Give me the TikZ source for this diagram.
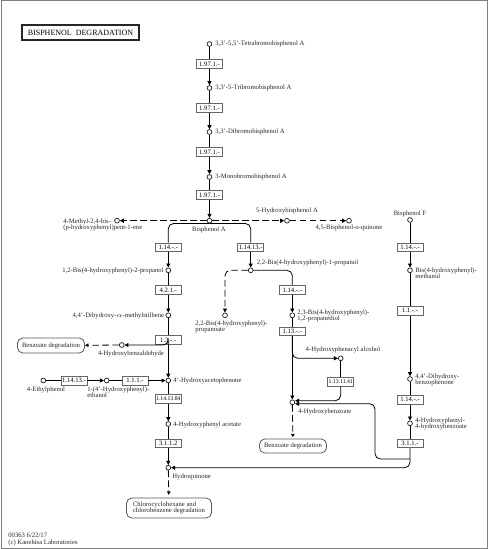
\documentclass[tikz,border=0pt]{standalone}
\usepackage{fontspec}
\setmainfont{Liberation Serif}
\usetikzlibrary{arrows.meta,calc}

\tikzset{every picture/.style={line width=0.6pt}}
\tikzset{
  cpd/.style={circle,draw=black!85,fill=white,inner sep=0pt,minimum size=3.6pt,line width=0.55pt},
  enz/.style={draw=black!60,fill=white,inner sep=0pt,minimum width=19.5pt,minimum height=6.6pt,font=\fontsize{5}{5}\selectfont},
  txt/.style={inner sep=0pt,align=left,text=black!85,font=\fontsize{5}{4.6}\selectfont},
  maplink/.style={draw=black!65,rounded corners=4pt,inner sep=0pt,align=left,text=black!85,font=\fontsize{5}{4.6}\selectfont},
  fwd/.style={-{Triangle[length=3pt,width=3pt]}},
  opentip/.style={-{Triangle[open,length=2.6pt,width=2.6pt]}},
  dsh/.style={dash pattern=on 5pt off 2.5pt},
}

\begin{document}
\begin{tikzpicture}[x=0.75pt,y=0.75pt,yscale=-1,xscale=1]
\useasboundingbox (0,0) rectangle (497,549);
%Shape: Frame
\draw [black!50] (1,0.5) rectangle (487,548);

%Title
\node [draw=black!85,line width=1pt,minimum width=87.75pt,minimum height=11.25pt,inner sep=0pt,font=\fontsize{6}{7}\selectfont] (title) at (80.5,32.5) {BISPHENOL\ \ DEGRADATION};

%Shape: Circle -- compounds
\node [cpd] (tbbpa) at (209.5,44) {};
\node [cpd] (tribpa) at (209.5,88) {};
\node [cpd] (dibpa) at (209.5,132) {};
\node [cpd] (monobpa) at (209.5,177) {};
\node [cpd] (bpa) at (209.5,220.7) {};
\node [cpd] (m24) at (117,220.7) {};
\node [cpd] (h5bpa) at (287,220.7) {};
\node [cpd] (bpq) at (349,220.7) {};
\node [cpd] (b12) at (168.3,270.3) {};
\node [cpd] (dms) at (168.3,315.3) {};
\node [cpd] (hbald) at (121.7,345) {};
\node [cpd] (ethyl) at (43.3,380.5) {};
\node [cpd] (hpe) at (106.7,380.5) {};
\node [cpd] (hap) at (168.3,380.5) {};
\node [cpd] (hpac) at (168.3,424) {};
\node [cpd] (hq) at (168.3,467.7) {};
\node [cpd] (bp1) at (250.7,270.3) {};
\node [cpd] (bpp) at (225,315.3) {};
\node [cpd] (bpd) at (292.3,315.3) {};
\node [cpd] (hpal) at (340.7,358.3) {};
\node [cpd] (hbz) at (292.3,402.3) {};
\node [cpd] (bpf) at (410,220) {};
\node [cpd] (bhm) at (410,270.3) {};
\node [cpd] (dhbp) at (410,379) {};
\node [cpd] (hphb) at (410,423.3) {};

%Shape: Rectangle -- enzymes
\node [enz] (e1) at (209.5,64) {1.97.1.-};
\node [enz] (e2) at (209.5,108) {1.97.1.-};
\node [enz] (e3) at (209.5,152) {1.97.1.-};
\node [enz] (e4) at (209.5,195) {1.97.1.-};
\node [enz] (e114a) at (168.3,247.3) {1.14.-.-};
\node [enz] (e421) at (168.3,290) {4.2.1.-};
\node [enz] (e13) at (168.3,340) {1.3.-.-};
\node [enz] (e11413a) at (74,380.5) {1.14.13.-};
\node [enz] (e111) at (135,380.5) {1.1.1.-};
\node [enz,font=\fontsize{4.3}{5}\selectfont] (e1141384) at (168.3,399) {1.14.13.84};
\node [enz] (e3112) at (168.3,443.3) {3.1.1.2};
\node [enz] (e11413b) at (250.7,247.3) {1.14.13.-};
\node [enz] (e114b) at (292.3,290) {1.14.-.-};
\node [enz] (e113) at (292.3,331.3) {1.13.-.-};
\node [enz,font=\fontsize{4.3}{5}\selectfont] (e1131141) at (340.7,381.7) {1.13.11.41};
\node [enz] (e114c) at (410,247.3) {1.14.-.-};
\node [enz] (e11) at (410,310.7) {1.1.-.-};
\node [enz] (e114d) at (410,399.7) {1.14.-.-};
\node [enz] (e311) at (410,443.3) {3.1.1.-};

%Shape: Rounded Rectangle -- pathway maps
\node [maplink,minimum width=50.25pt,minimum height=11.25pt] (bzd1) at (51,345.5) {Benzoate degradation};
\node [maplink,minimum width=50.25pt,minimum height=10.5pt] (bzd2) at (293,446) {Benzoate degradation};
\node [maplink,minimum width=63.75pt,minimum height=15pt] (chl) at (169,508) {Chlorocyclohexane and\\chlorobenzene degradation};

%Coordinates for bends
\coordinate (hbzup) at ($(hbz.east)+(0,-1.6)$);
\coordinate (hbzlo) at ($(hbz.east)+(0,1.4)$);
\coordinate (j311) at (410,459);
\coordinate (bend) at (375,459);

%Straight Lines -- debromination
\draw (tbbpa) -- (e1);
\draw [fwd] (e1) -- (tribpa);
\draw (tribpa) -- (e2);
\draw [fwd] (e2) -- (dibpa);
\draw (dibpa) -- (e3);
\draw [fwd] (e3) -- (monobpa);
\draw (monobpa) -- (e4);
\draw [fwd] (e4) -- (bpa);
\draw [dsh,fwd] (bpa) -- (m24);
\draw [dsh,fwd] (bpa) -- (h5bpa);
\draw [dsh,fwd] (h5bpa) -- (bpq);

%Straight Lines -- left branch
\draw [rounded corners=4pt] (bpa.south) -| (e114a);
\draw [fwd] (e114a) -- (b12);
\draw (b12) -- (e421);
\draw [fwd] (e421) -- (dms);
\draw (dms) -- (e13);
\draw [fwd,rounded corners=4pt] (e13.south) |- (hbald);
\draw [fwd] (e13) -- (hap);
\draw [dsh,opentip] (hbald) -- (bzd1);
\draw (ethyl) -- (e11413a);
\draw [fwd] (e11413a) -- (hpe);
\draw (hpe) -- (e111);
\draw [fwd] (e111) -- (hap);
\draw (hap) -- (e1141384);
\draw [fwd] (e1141384) -- (hpac);
\draw (hpac) -- (e3112);
\draw [fwd] (e3112) -- (hq);
\draw [dsh,opentip,shorten >=2pt] (hq) -- (chl);

%Straight Lines -- right branch
\draw [rounded corners=4pt] (bpa.south) -| (e11413b);
\draw [fwd] (e11413b) -- (bp1);
\draw [dsh,fwd,rounded corners=4pt] (bp1) -| (bpp);
\draw [rounded corners=4pt] (bp1) -| (e114b);
\draw [fwd] (e114b) -- (bpd);
\draw (bpd) -- (e113);
\draw [fwd] (e113) -- (hbz);
\draw [fwd,rounded corners=4pt] (e113.south) |- (hpal);
\draw (hpal) -- (e1131141);
\draw [fwd,rounded corners=4pt] (e1131141.south) |- (hbzup);
\draw [dsh,opentip,shorten >=1pt] (hbz) -- (bzd2);

%Straight Lines -- bisphenol F
\draw (bpf) -- (e114c);
\draw [fwd] (e114c) -- (bhm);
\draw (bhm) -- (e11);
\draw [fwd] (e11) -- (dhbp);
\draw (dhbp) -- (e114d);
\draw [fwd] (e114d) -- (hphb);
\draw (hphb) -- (e311);
\draw [fwd,rounded corners=4pt] (e311.south) |- (hq);
\draw [fwd,rounded corners=4pt] (j311) -- (bend) |- (hbzlo);

% Text Node
\node [txt,anchor=west] (tbbpa-t) at (215,44) {3,3'-5,5'-Tetrabromobisphenol A};
\node [txt,anchor=west] (tribpa-t) at (215,88) {3,3'-5-Tribromobisphenol A};
\node [txt,anchor=west] (dibpa-t) at (215,132) {3,3'-Dibromobisphenol A};
\node [txt,anchor=west] (monobpa-t) at (215,177) {3-Monobromobisphenol A};
\node [txt] (bpa-t) at (209,229.5) {Bisphenol A};
\node [txt,anchor=west] (m24-t) at (63,224.7) {4-Methyl-2,4-bis-\\(p-hydroxyphenyl)pent-1-ene};
\node [txt] (h5bpa-t) at (287,210.5) {5-Hydroxybisphenol A};
\node [txt] (bpq-t) at (349,227.7) {4,5-Bisphenol-o-quinone};
\node [txt,anchor=east] (b12-t) at (164,270.5) {1,2-Bis(4-hydroxyphenyl)-2-propanol};
\node [txt,anchor=east] (dms-t) at (164.5,315.5) {4,4'-Dihydroxy-$\alpha$-methylstilbene};
\node [txt] (hbald-t) at (131,354) {4-Hydroxybenzaldehyde};
\node [txt] (ethyl-t) at (46,390) {4-Ethylphenol};
\node [txt,anchor=west] (hpe-t) at (87,392) {1-(4'-Hydroxyphenyl)-\\ethanol};
\node [txt,anchor=west] (hap-t) at (173,380.5) {4'-Hydroxyacetophenone};
\node [txt,anchor=west] (hpac-t) at (173,425) {4-Hydroxyphenyl acetate};
\node [txt,anchor=west] (hq-t) at (172,477) {Hydroquinone};
\node [txt,anchor=west] (bp1-t) at (256.5,262.5) {2,2-Bis(4-hydroxyphenyl)-1-propanol};
\node [txt,anchor=west] (bpp-t) at (195,327.2) {2,2-Bis(4-hydroxyphenyl)-\\propanoate};
\node [txt,anchor=west] (bpd-t) at (297,315.5) {2,3-Bis(4-hydroxyphenyl)-\\1,2-propanediol};
\node [txt] (hpal-t) at (343,349.5) {4-Hydroxyphenacyl alcohol};
\node [txt,anchor=west] (hbz-t) at (298,412.3) {4-Hydroxybenzoate};
\node [txt] (bpf-t) at (410,214) {Bisphenol F};
\node [txt,anchor=west] (bhm-t) at (415,273) {Bis(4-hydroxyphenyl)-\\methanol};
\node [txt,anchor=west] (dhbp-t) at (415,380.3) {4,4'-Dihydroxy-\\benzophenone};
\node [txt,anchor=west] (hphb-t) at (415,423.7) {4-Hydroxyphenyl-\\4-hydroxybenzoate};
\node [txt,anchor=west] (foot) at (8,539.5) {00363 6/22/17\\(c) Kanehisa Laboratories};

\end{tikzpicture}
\end{document}
